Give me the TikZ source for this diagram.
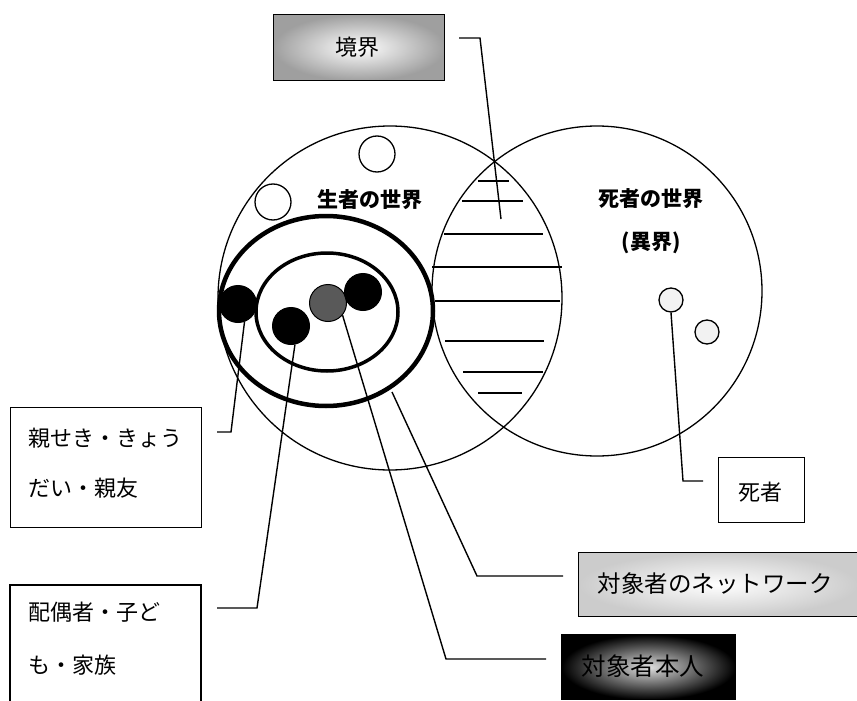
\documentclass[tikz,border=0pt]{standalone}
\usepackage{fontspec}
\setmainfont{Noto Sans CJK JP}
\usetikzlibrary{shapes.geometric}
\begin{document}
\begin{tikzpicture}[x=1pt,y=-1pt,
  lead/.style={line width=1.4pt},
  thin/.style={line width=1.3pt},
  hatch/.style={line width=1.3pt},
  boxlbl/.style={font=\fontsize{22}{26}\selectfont},
  worldlbl/.style={font=\bfseries\fontsize{21}{25}\selectfont},
  labbox/.style={draw,line width=1.3pt,inner sep=0pt,anchor=north west},
  openc/.style={circle,draw,line width=1.3pt,minimum size=36pt,inner sep=0pt},
  fullc/.style={circle,draw,fill=black,line width=1pt,minimum size=37pt,inner sep=0pt},
  deadc/.style={circle,draw,fill=gray!10,line width=1.3pt,minimum size=24pt,inner sep=0pt}]
\useasboundingbox (0,0) rectangle (857,701);

% worlds
\node[circle,draw,thin,minimum size=344pt,inner sep=0pt] (live) at (390,298) {};
\node[circle,draw,thin,minimum size=330pt,inner sep=0pt] (dead) at (597,291) {};

% hatching of the boundary lens
\draw[hatch] (478,181) -- (509,181);
\draw[hatch] (462,201) -- (523,201);
\draw[hatch] (444,234) -- (543,234);
\draw[hatch] (432,267) -- (562,267);
\draw[hatch] (435,301) -- (560,301);
\draw[hatch] (445,341) -- (544,341);
\draw[hatch] (463,372) -- (543,372);
\draw[hatch] (478,393) -- (522,393);

% small open circles
\node[openc] (o1) at (377,154) {};
\node[openc] (o2) at (273,202) {};

% network ellipses
\node[ellipse,draw,line width=4.5pt,minimum width=214pt,minimum height=190pt,inner sep=0pt] (net) at (326,311) {};
\node[ellipse,draw,line width=3.5pt,minimum width=142pt,minimum height=118pt,inner sep=0pt] (fam) at (327,312) {};

% persons
\node[fullc] (f1) at (238,304) {};
\node[fullc] (f2) at (291,326) {};
\node[circle,draw,fill=gray!70!black,line width=1pt,minimum size=37pt,inner sep=0pt] (self) at (328,303) {};
\node[fullc] (f4) at (363,292) {};

% the dead
\node[deadc] (d1) at (671,300) {};
\node[deadc] (d2) at (707,332) {};

% world labels
\node[worldlbl] (lw) at (370,200) {生者の世界};
\node[worldlbl] (dw) at (651,199) {死者の世界};
\node[worldlbl] (iw) at (651,243) {(異界)};

% label boxes
\node[labbox,shading=radial,inner color=white,outer color=gray!75,minimum width=171pt,minimum height=66pt] (kyo) at (273,14) {};
\node[boxlbl] (kyot) at (357,47) {境界};

\node[labbox,minimum width=191pt,minimum height=120pt] (rel) at (10,407) {};
\node[boxlbl,anchor=west] (rel1) at (25,438) {親せき・きょう};
\node[boxlbl,anchor=west] (rel2) at (25,488) {だい・親友};

\draw[line width=1.3pt] (10,701) -- (10,585) -- (201,585) -- (201,701);
\node[boxlbl,anchor=west] (sp1) at (25,612) {配偶者・子ど};
\node[boxlbl,anchor=west] (sp2) at (25,665) {も・家族};

\node[labbox,minimum width=86pt,minimum height=65pt] (shi) at (718,457) {};
\node[boxlbl] (shit) at (760,492) {死者};

\node[labbox,shading=radial,inner color=white,outer color=gray!40,minimum width=279pt,minimum height=64pt] (nw) at (578,552) {};
\node[font=\fontsize{23.5}{28}\selectfont] (nwt) at (715,584) {対象者のネットワーク};

\node[labbox,shading=radial,inner color=gray!25,outer color=black,minimum width=174pt,minimum height=65pt] (hon) at (561,634) {};
\node[font=\fontsize{24.5}{29}\selectfont,anchor=west] (hont) at (578,666) {対象者本人};

% leaders
\coordinate (k1) at (459,38);
\coordinate (k2) at (480,38);
\coordinate (k3) at (501,219);
\draw[lead] (k1) -- (k2) -- (k3);

\coordinate (r1) at (217,432);
\coordinate (r2) at (231,432);
\draw[lead] (r1) -- (r2) -- (f1.-70);

\coordinate (s1) at (217,608);
\coordinate (s2) at (257,608);
\draw[lead] (s1) -- (s2) -- (f2.-78);

\coordinate (n0) at (392,392);
\coordinate (n1) at (477,576);
\coordinate (n2) at (563,576);
\draw[lead] (n0) -- (n1) -- (n2);

\coordinate (h1) at (446,659);
\coordinate (h2) at (546,659);
\draw[lead] (self.-40) -- (h1) -- (h2);

\coordinate (e1) at (683,481);
\coordinate (e2) at (703,481);
\draw[lead] (d1.south) -- (e1) -- (e2);
\end{tikzpicture}
\end{document}
